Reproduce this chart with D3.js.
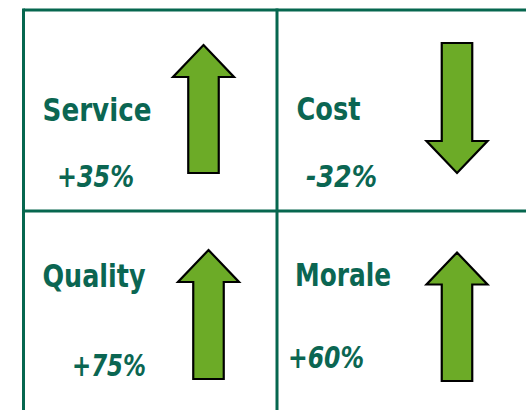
<!DOCTYPE html>
<html>
<head>
<script src="https://d3js.org/d3.v7.min.js"></script>
<style>
  body { margin: 0; background: #fff; }
  svg { display: block; }
</style>
</head>
<body>
<svg width="526" height="410"></svg>
<script>
// data
var categories = ["Service", "Cost", "Quality", "Morale"];
var changes = [35, -32, 75, 60];

// layout of each cell (offsets from the cell's top-left corner)
var cellLayout = [
  { col: 0, row: 0, nameX: 19.5, nameY: 111, nameW: 109, pctX: 34, pctY: 176.5, pctW: 77, arrowX: 180.5, arrowTop: 35, arrowBottom: 163 },
  { col: 1, row: 0, nameX: 19.5, nameY: 110, nameW: 64, pctX: 29, pctY: 176.5, pctW: 71, arrowX: 180, arrowTop: 33, arrowBottom: 163 },
  { col: 0, row: 1, nameX: 19.5, nameY: 76, nameW: 103, pctX: 49, pctY: 165, pctW: 74, arrowX: 185.5, arrowTop: 39, arrowBottom: 168 },
  { col: 1, row: 1, nameX: 18, nameY: 75, nameW: 96, pctX: 11, pctY: 157, pctW: 76, arrowX: 180, arrowTop: 41.5, arrowBottom: 170 }
];

var lineColor = "#06674f";
var textColor = "#0b6652";
var arrowFill = "#6cab27";

var svg = d3.select("svg");

var x = d3.scaleBand().domain([0, 1]).range([23.5, 531.5]);
var y = d3.scaleBand().domain([0, 1]).range([10, 412]);

// grid lines
var grid = svg.append("g")
  .attr("stroke", lineColor)
  .attr("stroke-width", 3);
grid.append("line").attr("x1", x(0)).attr("x2", 526).attr("y1", y(0)).attr("y2", y(0));
grid.append("line").attr("x1", x(0)).attr("x2", 526).attr("y1", y(1)).attr("y2", y(1));
grid.append("line").attr("x1", x(0)).attr("x2", x(0)).attr("y1", y(0) - 1.5).attr("y2", 410);
grid.append("line").attr("x1", x(1) - 0.5).attr("x2", x(1) - 0.5).attr("y1", y(0) - 1.5).attr("y2", 410);

var headW = 61, shaftW = 30.5, headH = 32;

function arrowPath(cx, top, bottom, up) {
  var p = d3.path();
  if (up) {
    p.moveTo(cx, top);
    p.lineTo(cx + headW / 2, top + headH);
    p.lineTo(cx + shaftW / 2, top + headH);
    p.lineTo(cx + shaftW / 2, bottom);
    p.lineTo(cx - shaftW / 2, bottom);
    p.lineTo(cx - shaftW / 2, top + headH);
    p.lineTo(cx - headW / 2, top + headH);
  } else {
    p.moveTo(cx, bottom);
    p.lineTo(cx + headW / 2, bottom - headH);
    p.lineTo(cx + shaftW / 2, bottom - headH);
    p.lineTo(cx + shaftW / 2, top);
    p.lineTo(cx - shaftW / 2, top);
    p.lineTo(cx - shaftW / 2, bottom - headH);
    p.lineTo(cx - headW / 2, bottom - headH);
  }
  p.closePath();
  return p.toString();
}

var cells = svg.selectAll("g.cell")
  .data(categories.map(function(c, i) { return { name: c, value: changes[i], lay: cellLayout[i] }; }))
  .enter()
  .append("g")
  .attr("class", "cell")
  .attr("transform", function(d) { return "translate(" + (x(d.lay.col) - 0.5) + "," + y(d.lay.row) + ")"; });

cells.append("path")
  .attr("d", function(d) { return arrowPath(d.lay.arrowX, d.lay.arrowTop, d.lay.arrowBottom, d.value > 0); })
  .attr("fill", arrowFill)
  .attr("stroke", "#000")
  .attr("stroke-width", 2.2)
  .attr("stroke-linejoin", "miter");

cells.append("text")
  .attr("x", function(d) { return d.lay.nameX; })
  .attr("y", function(d) { return d.lay.nameY; })
  .attr("textLength", function(d) { return d.lay.nameW; })
  .attr("lengthAdjust", "spacingAndGlyphs")
  .attr("font-family", "'DejaVu Sans Condensed', 'DejaVu Sans', sans-serif")
  .attr("font-weight", "bold")
  .attr("font-size", 31.5)
  .attr("fill", textColor)
  .text(function(d) { return d.name; });

cells.append("text")
  .attr("x", function(d) { return d.lay.pctX; })
  .attr("y", function(d) { return d.lay.pctY; })
  .attr("textLength", function(d) { return d.lay.pctW; })
  .attr("lengthAdjust", "spacingAndGlyphs")
  .attr("font-family", "'DejaVu Sans Condensed', 'DejaVu Sans', sans-serif")
  .attr("font-weight", "bold")
  .attr("font-style", "italic")
  .attr("font-size", 31)
  .attr("fill", textColor)
  .text(function(d) { return (d.value > 0 ? "+" : "-") + Math.abs(d.value) + "%"; });
</script>
</body>
</html>
